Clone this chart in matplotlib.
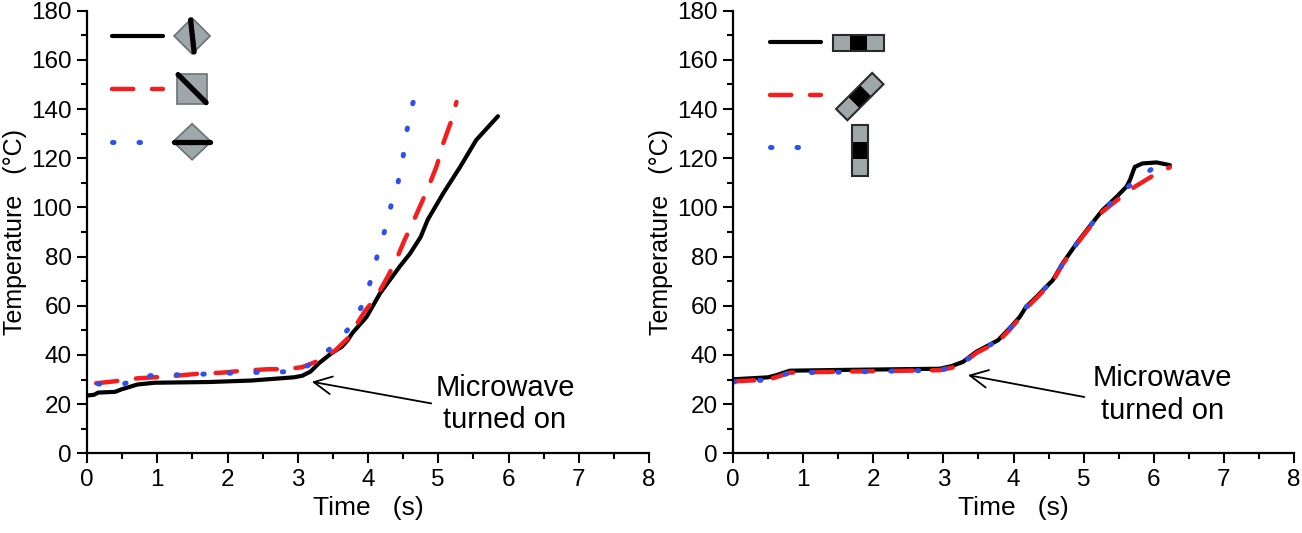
import numpy as np
import matplotlib
matplotlib.use("Agg")
import matplotlib.pyplot as plt
from matplotlib.patches import Polygon
from matplotlib.ticker import MultipleLocator

plt.rcParams['font.family'] = ['Liberation Sans', 'DejaVu Sans']

# ---------------- data ----------------
# left panel
t_black_l = [0, 0.1, 0.16, 0.4, 0.49, 0.72, 0.96, 1.74, 2.34, 2.94, 3.06, 3.18, 3.3,
             3.48, 3.63, 3.71, 3.78, 3.98, 4.17, 4.45, 4.6, 4.75, 4.85, 5.07, 5.31,
             5.54, 5.85]
y_black_l = [23.5, 23.8, 24.7, 25, 26, 28, 28.7, 29, 29.6, 30.9, 31.5, 33.2, 36.6,
             40.7, 43.4, 46, 49, 55.5, 65, 75.9, 81.3, 88.0, 95.0, 105.7, 116.4,
             127.4, 137.1]
t_red_l = [0.13, 0.37, 0.72, 1.14, 1.56, 1.92, 2.22, 2.58, 2.82, 3.06, 3.3, 3.54, 3.72,
           3.95, 4.12, 4.28, 4.4, 4.52, 4.64, 4.78, 4.88, 4.98, 5.07, 5.19, 5.26]
y_red_l = [28.5, 29.2, 30.5, 31.2, 32.3, 32.8, 33.6, 34.2, 34.2, 35, 37.7, 42, 47,
           57.6, 63.7, 71.8, 78.6, 86.7, 94, 103, 109.7, 117, 126, 135.5, 142.9]
t_blue_l = [0.16, 0.52, 0.84, 1.2, 1.56, 1.92, 2.28, 2.64, 3.0, 3.24, 3.52, 3.79, 3.93,
            4.05, 4.14, 4.24, 4.33, 4.43, 4.5, 4.55, 4.62, 4.74]
y_blue_l = [28.2, 28.2, 31.5, 31.9, 32.1, 32.5, 32.8, 33.1, 33.2, 37.3, 44, 52.9, 61,
            71.2, 81.3, 90.7, 101, 110.4, 120.6, 130.7, 140.9, 150.4]

# right panel
t_black_r = [0, 0.5, 0.62, 0.81, 1.52, 2.95, 3.12, 3.28, 3.47, 3.78, 3.95, 4.09, 4.18,
             4.33, 4.56, 4.7, 4.9, 5.08, 5.27, 5.47, 5.61, 5.66, 5.73, 5.84, 6.04, 6.23]
y_black_r = [30.1, 30.9, 31.8, 33.6, 33.9, 34.4, 35.5, 37.2, 41.3, 46, 51, 55.5, 59.6,
             63.7, 70.4, 77.2, 85.4, 92.1, 98.9, 104.3, 108.4, 111.1, 116.5, 117.9,
             118.3, 117.2]
t_red_r = [0, 0.5, 0.62, 0.81, 1.52, 2.95, 3.12, 3.28, 3.47, 3.78, 3.95, 4.09, 4.18,
           4.33, 4.56, 4.7, 4.9, 5.08, 5.27, 5.51, 5.73, 6.04, 6.23]
y_red_r = [29.2, 30.0, 31.0, 32.8, 33.2, 33.8, 34.8, 36.6, 40.8, 45.4, 50.4, 55, 59,
           63.2, 70, 76.8, 85, 91.6, 98.3, 103.7, 108.4, 113.8, 116.3]
t_blue_r = [0, 0.5, 0.62, 0.81, 1.52, 2.95, 3.12, 3.28, 3.47, 3.78, 3.95, 4.09, 4.18,
            4.33, 4.56, 4.7, 4.9, 5.08, 5.27, 5.47, 5.66, 5.89, 6.23]
y_blue_r = [29.0, 29.9, 31.0, 32.8, 33.0, 33.8, 35, 36.8, 41, 45.8, 51, 55.5, 59.5,
            63.5, 70.5, 77, 85.2, 92, 98.8, 104, 109, 114, 120.6]

# annotation anchors: (text x, text y), arrow tail, arrow tip
note_left = ((5.95, 20.0), (4.9, 20.3), (3.2, 29.1))
note_right = ((6.13, 24.0), (5.01, 22.9), (3.35, 31.8))

BLACK = '#000000'
RED = '#f51d1d'
BLUE = '#2d50ee'
GRAY = '#9ea8ab'
EDGE = '#2a2a2a'

FIG_W, FIG_H, DPI = 13.02, 5.33, 100

fig = plt.figure(figsize=(FIG_W, FIG_H), dpi=DPI)
ax_l = fig.add_axes([87 / 1302, 0.1495, 562 / 1302, 0.8304])
ax_r = fig.add_axes([733 / 1302, 0.1495, 561 / 1302, 0.8304])

red_kw = dict(color=RED, lw=3.2, dashes=(4.8, 4.2), dash_capstyle='round', solid_capstyle='round')
blue_kw = dict(color=BLUE, lw=3.6, dashes=(0.3, 5.0), dash_capstyle='round')
black_kw = dict(color=BLACK, lw=3.0, solid_capstyle='round', solid_joinstyle='round')


def style_axes(ax):
    ax.set_xlim(0, 8)
    ax.set_ylim(0, 180)
    ax.xaxis.set_major_locator(MultipleLocator(1))
    ax.xaxis.set_minor_locator(MultipleLocator(0.5))
    ax.yaxis.set_major_locator(MultipleLocator(20))
    ax.yaxis.set_minor_locator(MultipleLocator(10))
    for s in ['top', 'right']:
        ax.spines[s].set_visible(False)
    for s in ['left', 'bottom']:
        ax.spines[s].set_linewidth(1.6)
    ax.tick_params(which='major', direction='out', length=7, width=1.5,
                   labelsize=17.5, pad=4)
    ax.tick_params(which='minor', direction='out', length=4, width=1.5)
    ax.set_xlabel('Time   (s)', fontsize=19, labelpad=4)
    ax.set_ylabel('Temperature   (\u00b0C)', fontsize=18, labelpad=3)


def px2ax(ax, dx, dy):
    pos = ax.get_position()
    w = pos.width * FIG_W * DPI
    h = pos.height * FIG_H * DPI
    return dx / w, dy / h


def add_poly(ax, cx, cy, pts, **kw):
    xy = []
    for (px, py) in pts:
        fx, fy = px2ax(ax, px, py)
        xy.append((cx + fx, cy + fy))
    p = Polygon(xy, closed=True, transform=ax.transAxes, clip_on=False, **kw)
    ax.add_patch(p)


def add_seg(ax, cx, cy, p0, p1, lw):
    f0 = px2ax(ax, *p0)
    f1 = px2ax(ax, *p1)
    ax.plot([cx + f0[0], cx + f1[0]], [cy + f0[1], cy + f1[1]], color=BLACK, lw=lw,
            transform=ax.transAxes, clip_on=False, solid_capstyle='round')


def tile_icon(ax, cx, cy, angle):
    # three-part tile: gray | black | gray, 51 x 16 px
    a = np.deg2rad(angle)
    rot = np.array([[np.cos(a), -np.sin(a)], [np.sin(a), np.cos(a)]])
    segs = [(-25.5, -8.5, GRAY), (-8.5, 8.5, BLACK), (8.5, 25.5, GRAY)]
    for x0, x1, c in segs:
        pts = [rot @ np.array(p) for p in [(x0, -8), (x1, -8), (x1, 8), (x0, 8)]]
        add_poly(ax, cx, cy, pts, facecolor=c, edgecolor='none')
    outline = [rot @ np.array(p) for p in [(-25.5, -8), (25.5, -8), (25.5, 8), (-25.5, 8)]]
    add_poly(ax, cx, cy, outline, facecolor='none', edgecolor=EDGE, lw=1.5)


def legend_lines(ax, x0, x1, ys):
    ax.plot([x0, x1], [ys[0], ys[0]], transform=ax.transAxes, clip_on=False, **black_kw)
    ax.plot([x0, x1], [ys[1], ys[1]], transform=ax.transAxes, clip_on=False, **red_kw)
    ax.plot([x0, x1], [ys[2], ys[2]], transform=ax.transAxes, clip_on=False, **blue_kw)


def add_note(ax, note):
    (tx, ty), tail, tip = note
    ax.annotate('', xy=tip, xytext=tail,
                arrowprops=dict(arrowstyle='->', lw=1.3, color=BLACK,
                                mutation_scale=32, shrinkA=0, shrinkB=0))
    ax.text(tx, ty, 'Microwave\nturned on', fontsize=21, ha='center', va='center',
            linespacing=1.2)


# ---------------- left panel ----------------
ax_l.plot(t_black_l, y_black_l, **black_kw)
ax_l.plot(t_red_l, y_red_l, **red_kw)
ax_l.plot(t_blue_l, y_blue_l, **blue_kw)
style_axes(ax_l)
add_note(ax_l, note_left)

ys_l = [0.943, 0.824, 0.704]
legend_lines(ax_l, 0.0445, 0.135, ys_l)
icx = 0.187
# diamond with near-vertical bar
add_poly(ax_l, icx, ys_l[0], [(0, 18), (18, 0), (0, -18), (-18, 0)],
         facecolor=GRAY, edgecolor='#6a7275', lw=1.2)
add_seg(ax_l, icx, ys_l[0], (-1.5, 16), (2, -16), 3.8)
# square with diagonal bar
add_poly(ax_l, icx, ys_l[1], [(-15, -15), (15, -15), (15, 15), (-15, 15)],
         facecolor=GRAY, edgecolor='#6a7275', lw=1.2)
add_seg(ax_l, icx, ys_l[1], (-14, 14), (14, -14), 3.8)
# diamond with horizontal bar
add_poly(ax_l, icx, ys_l[2], [(0, 18), (19, 0), (0, -18), (-19, 0)],
         facecolor=GRAY, edgecolor='#6a7275', lw=1.2)
add_seg(ax_l, icx, ys_l[2], (-18, 0), (18, 0), 3.8)

# ---------------- right panel ----------------
ax_r.plot(t_black_r, y_black_r, **black_kw)
ax_r.plot(t_red_r, y_red_r, **red_kw)
ax_r.plot(t_blue_r, y_blue_r, **blue_kw)
style_axes(ax_r)
add_note(ax_r, note_right)

ys_r = [0.929, 0.81, 0.691]
legend_lines(ax_r, 0.066, 0.157, ys_r)
tile_icon(ax_r, 0.224, 0.927, 0)
tile_icon(ax_r, 0.226, 0.806, 45)
tile_icon(ax_r, 0.227, 0.685, 90)

fig.savefig('out.png', dpi=DPI)
